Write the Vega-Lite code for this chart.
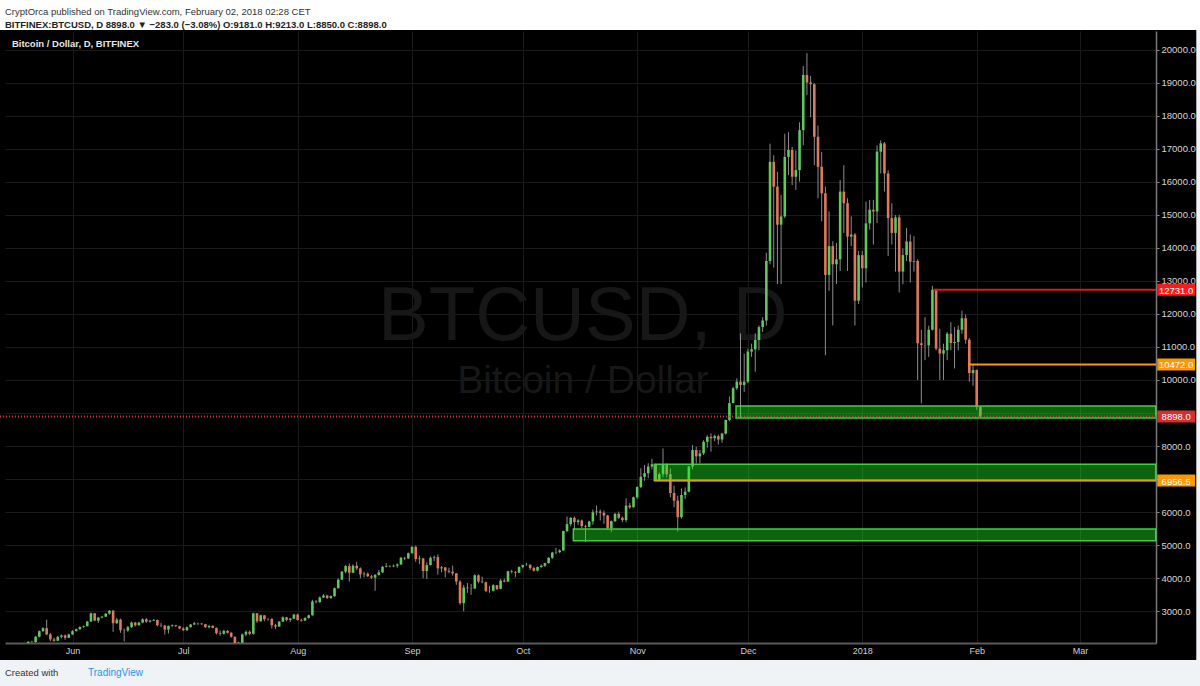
{
  "$schema": "https://vega.github.io/schema/vega-lite/v6.json",
  "width": 1151,
  "height": 612,
  "autosize": {"type": "none"},
  "padding": {"left": 5, "top": 31, "right": 44, "bottom": 43},
  "background": "#000000",
  "config": {
    "view": {"stroke": null},
    "font": "Liberation Sans",
    "axisY": {"labelOverlap": false, "labelSeparation": 0, "labelBound": false}
  },
  "title": {
    "text": "CryptOrca published on TradingView.com, February 02, 2018 02:28 CET",
    "subtitle": "BITFINEX:BTCUSD, D  8898.0 ▼ −283.0 (−3.08%) O:9181.0 H:9213.0 L:8850.0 C:8898.0",
    "anchor": "start",
    "frame": "group",
    "offset": -29,
    "font": "Liberation Sans",
    "fontSize": 9.5,
    "fontWeight": "normal",
    "color": "#333333",
    "subtitleFont": "Liberation Sans",
    "subtitleFontSize": 9.5,
    "subtitleFontWeight": "bold",
    "subtitleColor": "#222222",
    "subtitlePadding": 3
  },
  "datasets": {
    "candles": [
      {"d":"2017-05-20","o":2040,"h":2090,"l":2030,"c":2080},
      {"d":"2017-05-21","o":2080,"h":2110,"l":2050,"c":2070},
      {"d":"2017-05-22","o":2070,"h":2250,"l":2050,"c":2230},
      {"d":"2017-05-23","o":2230,"h":2420,"l":2210,"c":2400},
      {"d":"2017-05-24","o":2400,"h":2520,"l":2380,"c":2490},
      {"d":"2017-05-25","o":2490,"h":2750,"l":2280,"c":2300},
      {"d":"2017-05-26","o":2300,"h":2350,"l":2100,"c":2150},
      {"d":"2017-05-27","o":2150,"h":2200,"l":2080,"c":2110},
      {"d":"2017-05-28","o":2110,"h":2260,"l":2100,"c":2230},
      {"d":"2017-05-29","o":2230,"h":2300,"l":2180,"c":2270},
      {"d":"2017-05-30","o":2270,"h":2300,"l":2140,"c":2200},
      {"d":"2017-05-31","o":2200,"h":2330,"l":2190,"c":2300},
      {"d":"2017-06-01","o":2300,"h":2430,"l":2290,"c":2400},
      {"d":"2017-06-02","o":2400,"h":2480,"l":2390,"c":2460},
      {"d":"2017-06-03","o":2460,"h":2540,"l":2440,"c":2530},
      {"d":"2017-06-04","o":2530,"h":2570,"l":2500,"c":2550},
      {"d":"2017-06-05","o":2550,"h":2710,"l":2540,"c":2690},
      {"d":"2017-06-06","o":2690,"h":2960,"l":2680,"c":2940},
      {"d":"2017-06-07","o":2940,"h":2950,"l":2700,"c":2720},
      {"d":"2017-06-08","o":2720,"h":2830,"l":2650,"c":2810},
      {"d":"2017-06-09","o":2810,"h":2860,"l":2790,"c":2840},
      {"d":"2017-06-10","o":2840,"h":2950,"l":2830,"c":2930},
      {"d":"2017-06-11","o":2930,"h":3040,"l":2900,"c":3020},
      {"d":"2017-06-12","o":3020,"h":3040,"l":2380,"c":2640},
      {"d":"2017-06-13","o":2640,"h":2800,"l":2620,"c":2750},
      {"d":"2017-06-14","o":2750,"h":2780,"l":2350,"c":2430},
      {"d":"2017-06-15","o":2430,"h":2480,"l":2090,"c":2420},
      {"d":"2017-06-16","o":2420,"h":2560,"l":2380,"c":2520},
      {"d":"2017-06-17","o":2520,"h":2690,"l":2500,"c":2660},
      {"d":"2017-06-18","o":2660,"h":2680,"l":2540,"c":2580},
      {"d":"2017-06-19","o":2580,"h":2680,"l":2570,"c":2660},
      {"d":"2017-06-20","o":2660,"h":2790,"l":2640,"c":2760},
      {"d":"2017-06-21","o":2760,"h":2800,"l":2650,"c":2690},
      {"d":"2017-06-22","o":2690,"h":2740,"l":2660,"c":2720},
      {"d":"2017-06-23","o":2720,"h":2770,"l":2710,"c":2740},
      {"d":"2017-06-24","o":2740,"h":2750,"l":2550,"c":2580},
      {"d":"2017-06-25","o":2580,"h":2650,"l":2520,"c":2570},
      {"d":"2017-06-26","o":2570,"h":2590,"l":2300,"c":2450},
      {"d":"2017-06-27","o":2450,"h":2570,"l":2330,"c":2560},
      {"d":"2017-06-28","o":2560,"h":2600,"l":2520,"c":2580},
      {"d":"2017-06-29","o":2580,"h":2590,"l":2530,"c":2550},
      {"d":"2017-06-30","o":2550,"h":2560,"l":2460,"c":2480},
      {"d":"2017-07-01","o":2480,"h":2520,"l":2400,"c":2430},
      {"d":"2017-07-02","o":2430,"h":2540,"l":2400,"c":2520},
      {"d":"2017-07-03","o":2520,"h":2620,"l":2510,"c":2600},
      {"d":"2017-07-04","o":2600,"h":2680,"l":2590,"c":2640},
      {"d":"2017-07-05","o":2640,"h":2660,"l":2580,"c":2630},
      {"d":"2017-07-06","o":2630,"h":2650,"l":2590,"c":2610},
      {"d":"2017-07-07","o":2610,"h":2620,"l":2500,"c":2520},
      {"d":"2017-07-08","o":2520,"h":2580,"l":2480,"c":2560},
      {"d":"2017-07-09","o":2560,"h":2580,"l":2490,"c":2500},
      {"d":"2017-07-10","o":2500,"h":2510,"l":2300,"c":2340},
      {"d":"2017-07-11","o":2340,"h":2420,"l":2260,"c":2320},
      {"d":"2017-07-12","o":2320,"h":2440,"l":2300,"c":2410},
      {"d":"2017-07-13","o":2410,"h":2430,"l":2330,"c":2350},
      {"d":"2017-07-14","o":2350,"h":2370,"l":2200,"c":2230},
      {"d":"2017-07-15","o":2230,"h":2240,"l":2000,"c":2020},
      {"d":"2017-07-16","o":2020,"h":2080,"l":1950,"c":2050},
      {"d":"2017-07-17","o":2050,"h":2330,"l":2030,"c":2300},
      {"d":"2017-07-18","o":2300,"h":2420,"l":2250,"c":2380},
      {"d":"2017-07-19","o":2380,"h":2420,"l":2280,"c":2320},
      {"d":"2017-07-20","o":2320,"h":2960,"l":2300,"c":2940},
      {"d":"2017-07-21","o":2940,"h":2950,"l":2650,"c":2700},
      {"d":"2017-07-22","o":2700,"h":2900,"l":2680,"c":2880},
      {"d":"2017-07-23","o":2880,"h":2890,"l":2700,"c":2760},
      {"d":"2017-07-24","o":2760,"h":2790,"l":2720,"c":2770},
      {"d":"2017-07-25","o":2770,"h":2790,"l":2480,"c":2580},
      {"d":"2017-07-26","o":2580,"h":2620,"l":2460,"c":2540},
      {"d":"2017-07-27","o":2540,"h":2700,"l":2530,"c":2690},
      {"d":"2017-07-28","o":2690,"h":2850,"l":2680,"c":2820},
      {"d":"2017-07-29","o":2820,"h":2830,"l":2700,"c":2740},
      {"d":"2017-07-30","o":2740,"h":2800,"l":2680,"c":2780},
      {"d":"2017-07-31","o":2780,"h":2930,"l":2770,"c":2900},
      {"d":"2017-08-01","o":2900,"h":2930,"l":2720,"c":2740},
      {"d":"2017-08-02","o":2740,"h":2780,"l":2690,"c":2720},
      {"d":"2017-08-03","o":2720,"h":2820,"l":2710,"c":2800},
      {"d":"2017-08-04","o":2800,"h":2900,"l":2780,"c":2880},
      {"d":"2017-08-05","o":2880,"h":3350,"l":2870,"c":3300},
      {"d":"2017-08-06","o":3300,"h":3340,"l":3240,"c":3280},
      {"d":"2017-08-07","o":3280,"h":3450,"l":3260,"c":3420},
      {"d":"2017-08-08","o":3420,"h":3520,"l":3400,"c":3480},
      {"d":"2017-08-09","o":3480,"h":3500,"l":3380,"c":3400},
      {"d":"2017-08-10","o":3400,"h":3480,"l":3380,"c":3460},
      {"d":"2017-08-11","o":3460,"h":3720,"l":3440,"c":3700},
      {"d":"2017-08-12","o":3700,"h":4000,"l":3690,"c":3960},
      {"d":"2017-08-13","o":3960,"h":4220,"l":3950,"c":4200},
      {"d":"2017-08-14","o":4200,"h":4400,"l":4150,"c":4370},
      {"d":"2017-08-15","o":4370,"h":4450,"l":3900,"c":4170},
      {"d":"2017-08-16","o":4170,"h":4420,"l":4150,"c":4380},
      {"d":"2017-08-17","o":4380,"h":4500,"l":4250,"c":4300},
      {"d":"2017-08-18","o":4300,"h":4330,"l":4000,"c":4120},
      {"d":"2017-08-19","o":4120,"h":4200,"l":4030,"c":4140},
      {"d":"2017-08-20","o":4140,"h":4180,"l":4040,"c":4060},
      {"d":"2017-08-21","o":4060,"h":4100,"l":3980,"c":4020},
      {"d":"2017-08-22","o":4020,"h":4130,"l":3620,"c":4100},
      {"d":"2017-08-23","o":4100,"h":4250,"l":4080,"c":4180},
      {"d":"2017-08-24","o":4180,"h":4370,"l":4160,"c":4350},
      {"d":"2017-08-25","o":4350,"h":4460,"l":4330,"c":4370},
      {"d":"2017-08-26","o":4370,"h":4400,"l":4330,"c":4360},
      {"d":"2017-08-27","o":4360,"h":4420,"l":4340,"c":4380},
      {"d":"2017-08-28","o":4380,"h":4450,"l":4320,"c":4420},
      {"d":"2017-08-29","o":4420,"h":4650,"l":4400,"c":4620},
      {"d":"2017-08-30","o":4620,"h":4650,"l":4550,"c":4600},
      {"d":"2017-08-31","o":4600,"h":4780,"l":4590,"c":4760},
      {"d":"2017-09-01","o":4760,"h":4980,"l":4740,"c":4950},
      {"d":"2017-09-02","o":4950,"h":4990,"l":4500,"c":4580},
      {"d":"2017-09-03","o":4580,"h":4690,"l":4430,"c":4600},
      {"d":"2017-09-04","o":4600,"h":4620,"l":4000,"c":4220},
      {"d":"2017-09-05","o":4220,"h":4480,"l":3980,"c":4400},
      {"d":"2017-09-06","o":4400,"h":4660,"l":4390,"c":4620},
      {"d":"2017-09-07","o":4620,"h":4690,"l":4520,"c":4640},
      {"d":"2017-09-08","o":4640,"h":4720,"l":4110,"c":4300},
      {"d":"2017-09-09","o":4300,"h":4370,"l":4180,"c":4330},
      {"d":"2017-09-10","o":4330,"h":4340,"l":4030,"c":4230},
      {"d":"2017-09-11","o":4230,"h":4320,"l":4150,"c":4200},
      {"d":"2017-09-12","o":4200,"h":4380,"l":4080,"c":4150},
      {"d":"2017-09-13","o":4150,"h":4160,"l":3800,"c":3900},
      {"d":"2017-09-14","o":3900,"h":3940,"l":3200,"c":3250},
      {"d":"2017-09-15","o":3250,"h":3800,"l":3000,"c":3720},
      {"d":"2017-09-16","o":3720,"h":3860,"l":3560,"c":3700},
      {"d":"2017-09-17","o":3700,"h":3830,"l":3500,"c":3690},
      {"d":"2017-09-18","o":3690,"h":4120,"l":3680,"c":4090},
      {"d":"2017-09-19","o":4090,"h":4120,"l":3850,"c":3900},
      {"d":"2017-09-20","o":3900,"h":4050,"l":3850,"c":3880},
      {"d":"2017-09-21","o":3880,"h":3900,"l":3580,"c":3620},
      {"d":"2017-09-22","o":3620,"h":3770,"l":3560,"c":3620},
      {"d":"2017-09-23","o":3620,"h":3820,"l":3600,"c":3790},
      {"d":"2017-09-24","o":3790,"h":3800,"l":3640,"c":3680},
      {"d":"2017-09-25","o":3680,"h":3980,"l":3670,"c":3930},
      {"d":"2017-09-26","o":3930,"h":3990,"l":3880,"c":3900},
      {"d":"2017-09-27","o":3900,"h":4230,"l":3890,"c":4210},
      {"d":"2017-09-28","o":4210,"h":4260,"l":4150,"c":4190},
      {"d":"2017-09-29","o":4190,"h":4220,"l":4030,"c":4170},
      {"d":"2017-09-30","o":4170,"h":4360,"l":4160,"c":4340},
      {"d":"2017-10-01","o":4340,"h":4410,"l":4300,"c":4400},
      {"d":"2017-10-02","o":4400,"h":4470,"l":4380,"c":4410},
      {"d":"2017-10-03","o":4410,"h":4420,"l":4250,"c":4310},
      {"d":"2017-10-04","o":4310,"h":4350,"l":4200,"c":4230},
      {"d":"2017-10-05","o":4230,"h":4360,"l":4210,"c":4340},
      {"d":"2017-10-06","o":4340,"h":4420,"l":4320,"c":4380},
      {"d":"2017-10-07","o":4380,"h":4470,"l":4340,"c":4460},
      {"d":"2017-10-08","o":4460,"h":4640,"l":4440,"c":4620},
      {"d":"2017-10-09","o":4620,"h":4800,"l":4590,"c":4780},
      {"d":"2017-10-10","o":4780,"h":4920,"l":4730,"c":4790},
      {"d":"2017-10-11","o":4790,"h":4880,"l":4760,"c":4840},
      {"d":"2017-10-12","o":4840,"h":5440,"l":4830,"c":5430},
      {"d":"2017-10-13","o":5430,"h":5870,"l":5400,"c":5640},
      {"d":"2017-10-14","o":5640,"h":5850,"l":5570,"c":5830},
      {"d":"2017-10-15","o":5830,"h":5870,"l":5460,"c":5700},
      {"d":"2017-10-16","o":5700,"h":5790,"l":5620,"c":5750},
      {"d":"2017-10-17","o":5750,"h":5780,"l":5520,"c":5580},
      {"d":"2017-10-18","o":5580,"h":5620,"l":5100,"c":5560},
      {"d":"2017-10-19","o":5560,"h":5740,"l":5550,"c":5720},
      {"d":"2017-10-20","o":5720,"h":6080,"l":5620,"c":6000},
      {"d":"2017-10-21","o":6000,"h":6200,"l":5900,"c":6020},
      {"d":"2017-10-22","o":6020,"h":6080,"l":5750,"c":5980},
      {"d":"2017-10-23","o":5980,"h":6050,"l":5650,"c":5900},
      {"d":"2017-10-24","o":5900,"h":5920,"l":5480,"c":5520},
      {"d":"2017-10-25","o":5520,"h":5750,"l":5400,"c":5730},
      {"d":"2017-10-26","o":5730,"h":5980,"l":5700,"c":5950},
      {"d":"2017-10-27","o":5950,"h":6020,"l":5800,"c":5830},
      {"d":"2017-10-28","o":5830,"h":5870,"l":5700,"c":5760},
      {"d":"2017-10-29","o":5760,"h":6420,"l":5700,"c":6200},
      {"d":"2017-10-30","o":6200,"h":6280,"l":6100,"c":6150},
      {"d":"2017-10-31","o":6150,"h":6470,"l":6140,"c":6450},
      {"d":"2017-11-01","o":6450,"h":6780,"l":6400,"c":6760},
      {"d":"2017-11-02","o":6760,"h":7330,"l":6730,"c":7070},
      {"d":"2017-11-03","o":7070,"h":7430,"l":6950,"c":7180},
      {"d":"2017-11-04","o":7180,"h":7480,"l":7030,"c":7380},
      {"d":"2017-11-05","o":7380,"h":7620,"l":7300,"c":7450},
      {"d":"2017-11-06","o":7450,"h":7460,"l":6950,"c":6990},
      {"d":"2017-11-07","o":6990,"h":7200,"l":6950,"c":7150},
      {"d":"2017-11-08","o":7150,"h":7930,"l":7050,"c":7450},
      {"d":"2017-11-09","o":7450,"h":7480,"l":7050,"c":7150},
      {"d":"2017-11-10","o":7150,"h":7330,"l":6450,"c":6580},
      {"d":"2017-11-11","o":6580,"h":6800,"l":6150,"c":6350},
      {"d":"2017-11-12","o":6350,"h":6500,"l":5410,"c":5850},
      {"d":"2017-11-13","o":5850,"h":6720,"l":5800,"c":6520},
      {"d":"2017-11-14","o":6520,"h":6750,"l":6400,"c":6620},
      {"d":"2017-11-15","o":6620,"h":7400,"l":6600,"c":7380},
      {"d":"2017-11-16","o":7380,"h":8030,"l":7300,"c":7880},
      {"d":"2017-11-17","o":7880,"h":7980,"l":7480,"c":7690},
      {"d":"2017-11-18","o":7690,"h":7880,"l":7480,"c":7780},
      {"d":"2017-11-19","o":7780,"h":8180,"l":7730,"c":8130},
      {"d":"2017-11-20","o":8130,"h":8330,"l":7950,"c":8280},
      {"d":"2017-11-21","o":8280,"h":8385,"l":7830,"c":8240},
      {"d":"2017-11-22","o":8240,"h":8350,"l":8150,"c":8300},
      {"d":"2017-11-23","o":8300,"h":8350,"l":8050,"c":8200},
      {"d":"2017-11-24","o":8200,"h":8400,"l":8100,"c":8380},
      {"d":"2017-11-25","o":8380,"h":8800,"l":8350,"c":8790},
      {"d":"2017-11-26","o":8790,"h":9500,"l":8750,"c":9300},
      {"d":"2017-11-27","o":9300,"h":9800,"l":9300,"c":9750},
      {"d":"2017-11-28","o":9750,"h":10050,"l":9700,"c":9950},
      {"d":"2017-11-29","o":9950,"h":11410,"l":8840,"c":9850},
      {"d":"2017-11-30","o":9850,"h":10800,"l":9640,"c":9950},
      {"d":"2017-12-01","o":9950,"h":10950,"l":9900,"c":10860},
      {"d":"2017-12-02","o":10860,"h":11100,"l":10700,"c":10930},
      {"d":"2017-12-03","o":10930,"h":11410,"l":10250,"c":11210},
      {"d":"2017-12-04","o":11210,"h":11650,"l":10900,"c":11600},
      {"d":"2017-12-05","o":11600,"h":11900,"l":11450,"c":11800},
      {"d":"2017-12-06","o":11800,"h":13850,"l":11650,"c":13600},
      {"d":"2017-12-07","o":13600,"h":17150,"l":13500,"c":16600},
      {"d":"2017-12-08","o":16600,"h":16800,"l":13400,"c":15850},
      {"d":"2017-12-09","o":15850,"h":16300,"l":12900,"c":14700},
      {"d":"2017-12-10","o":14700,"h":15600,"l":12900,"c":14950},
      {"d":"2017-12-11","o":14950,"h":17450,"l":14900,"c":16750},
      {"d":"2017-12-12","o":16750,"h":17500,"l":16200,"c":16960},
      {"d":"2017-12-13","o":16960,"h":17050,"l":15900,"c":16150},
      {"d":"2017-12-14","o":16150,"h":16950,"l":15750,"c":16350},
      {"d":"2017-12-15","o":16350,"h":17800,"l":16000,"c":17560},
      {"d":"2017-12-16","o":17560,"h":19500,"l":17100,"c":19230},
      {"d":"2017-12-17","o":19230,"h":19890,"l":18620,"c":19000},
      {"d":"2017-12-18","o":19000,"h":19200,"l":17950,"c":18950},
      {"d":"2017-12-19","o":18950,"h":18980,"l":16500,"c":17360},
      {"d":"2017-12-20","o":17360,"h":17700,"l":15500,"c":16450},
      {"d":"2017-12-21","o":16450,"h":16900,"l":14800,"c":15650},
      {"d":"2017-12-22","o":15650,"h":15850,"l":10750,"c":13180},
      {"d":"2017-12-23","o":13180,"h":15100,"l":12700,"c":14050},
      {"d":"2017-12-24","o":14050,"h":14200,"l":11650,"c":13500},
      {"d":"2017-12-25","o":13500,"h":14150,"l":12900,"c":13650},
      {"d":"2017-12-26","o":13650,"h":16050,"l":13300,"c":15700},
      {"d":"2017-12-27","o":15700,"h":16500,"l":14450,"c":15350},
      {"d":"2017-12-28","o":15350,"h":15500,"l":13300,"c":14340},
      {"d":"2017-12-29","o":14340,"h":14950,"l":14050,"c":14400},
      {"d":"2017-12-30","o":14400,"h":14450,"l":11650,"c":12400},
      {"d":"2017-12-31","o":12400,"h":13900,"l":12300,"c":13780},
      {"d":"2018-01-01","o":13780,"h":13900,"l":12800,"c":13380},
      {"d":"2018-01-02","o":13380,"h":15400,"l":12950,"c":14740},
      {"d":"2018-01-03","o":14740,"h":15450,"l":14550,"c":15150},
      {"d":"2018-01-04","o":15150,"h":15450,"l":14100,"c":15100},
      {"d":"2018-01-05","o":15100,"h":17100,"l":14750,"c":16910},
      {"d":"2018-01-06","o":16910,"h":17250,"l":16250,"c":17160},
      {"d":"2018-01-07","o":17160,"h":17200,"l":15700,"c":16250},
      {"d":"2018-01-08","o":16250,"h":16350,"l":13750,"c":14900},
      {"d":"2018-01-09","o":14900,"h":15350,"l":14100,"c":14450},
      {"d":"2018-01-10","o":14450,"h":14990,"l":13280,"c":14920},
      {"d":"2018-01-11","o":14920,"h":15000,"l":12650,"c":13280},
      {"d":"2018-01-12","o":13280,"h":13980,"l":12900,"c":13780},
      {"d":"2018-01-13","o":13780,"h":14600,"l":13600,"c":14190},
      {"d":"2018-01-14","o":14190,"h":14400,"l":12950,"c":13580},
      {"d":"2018-01-15","o":13580,"h":14350,"l":13280,"c":13600},
      {"d":"2018-01-16","o":13600,"h":13650,"l":10000,"c":11110},
      {"d":"2018-01-17","o":11110,"h":11520,"l":9290,"c":11060},
      {"d":"2018-01-18","o":11060,"h":11900,"l":10600,"c":11050},
      {"d":"2018-01-19","o":11050,"h":11640,"l":10700,"c":11520},
      {"d":"2018-01-20","o":11520,"h":12850,"l":11500,"c":12731},
      {"d":"2018-01-21","o":12731,"h":12760,"l":10900,"c":10950},
      {"d":"2018-01-22","o":10950,"h":11550,"l":10000,"c":10800},
      {"d":"2018-01-23","o":10800,"h":11100,"l":10000,"c":10900},
      {"d":"2018-01-24","o":10900,"h":11450,"l":10600,"c":11400},
      {"d":"2018-01-25","o":11400,"h":11750,"l":10900,"c":11120},
      {"d":"2018-01-26","o":11120,"h":11600,"l":10350,"c":11150},
      {"d":"2018-01-27","o":11150,"h":11650,"l":10900,"c":11520},
      {"d":"2018-01-28","o":11520,"h":12100,"l":11400,"c":11870},
      {"d":"2018-01-29","o":11870,"h":11980,"l":11100,"c":11220},
      {"d":"2018-01-30","o":11220,"h":11270,"l":9950,"c":10210},
      {"d":"2018-01-31","o":10210,"h":10472,"l":9830,"c":10300},
      {"d":"2018-02-01","o":10300,"h":10320,"l":9100,"c":9181},
      {"d":"2018-02-02","o":9181,"h":9213,"l":8850,"c":8898}
    ],
    "zones": [
      {"start":"2017-11-27T19:00:00Z","bottom":8850,"top":9213},
      {"start":"2017-11-05T15:00:00Z","bottom":6956.5,"top":7450},
      {"start":"2017-10-14T17:00:00Z","bottom":5138,"top":5492}
    ],
    "levels": [
      {"kind":"resistance","level":12731,"start":"2018-01-20T08:00:00Z","label":"12731.0"},
      {"kind":"pivot","level":10472,"start":"2018-01-29T18:00:00Z","label":"10472.0"},
      {"kind":"last","level":8898,"start":"2017-05-12T08:00:00Z","label":"8898.0"},
      {"kind":"support","level":6956.5,"start":"2017-11-05T15:00:00Z","label":"6956.5"}
    ]
  },
  "layer": [
    {
      "data": {"values": [{}]},
      "mark": {"type": "rect", "color": "#ffffff"},
      "encoding": {
        "x": {"datum": {"year": 2017, "month": 5, "date": 12, "hours": 8, "utc": true}, "type": "temporal"},
        "x2": {"datum": {"year": 2018, "month": 4, "date": 2, "hours": 14, "utc": true}},
        "y": {"datum": 20590, "type": "quantitative"},
        "y2": {"datum": 21498}
      }
    },
    {
      "data": {"values": [{}]},
      "mark": {"type": "rect", "color": "#f0f3f6"},
      "encoding": {
        "x": {"datum": {"year": 2017, "month": 5, "date": 12, "hours": 8, "utc": true}, "type": "temporal"},
        "x2": {"datum": {"year": 2018, "month": 4, "date": 2, "hours": 14, "utc": true}},
        "y": {"datum": 741, "type": "quantitative"},
        "y2": {"datum": 1528}
      }
    },
    {
      "data": {"values": [{}]},
      "mark": {"type": "rect", "color": "#f0f3f6"},
      "encoding": {
        "x": {"datum": {"year": 2018, "month": 4, "date": 1, "hours": 12, "utc": true}, "type": "temporal"},
        "x2": {"datum": {"year": 2018, "month": 4, "date": 2, "hours": 14, "utc": true}},
        "y": {"datum": 1528, "type": "quantitative"},
        "y2": {"datum": 20590}
      }
    },
    {
      "data": {"values": [{"t": "BTCUSD, D"}]},
      "mark": {"type": "text", "font": "Liberation Sans", "fontSize": 76, "color": "#171717", "align": "center", "baseline": "alphabetic"},
      "encoding": {
        "x": {"datum": {"year": 2017, "month": 10, "date": 17, "hours": 7, "utc": true}, "type": "temporal"},
        "y": {"datum": 11210, "type": "quantitative"},
        "text": {"field": "t"}
      }
    },
    {
      "data": {"values": [{"t": "Bitcoin / Dollar"}]},
      "mark": {"type": "text", "font": "Liberation Sans", "fontSize": 39, "color": "#171717", "align": "center", "baseline": "alphabetic"},
      "encoding": {
        "x": {"datum": {"year": 2017, "month": 10, "date": 17, "hours": 7, "utc": true}, "type": "temporal"},
        "y": {"datum": 9607, "type": "quantitative"},
        "text": {"field": "t"}
      }
    },
    {
      "data": {"name": "candles"},
      "mark": {"type": "rule", "color": "#8c8c8c", "strokeWidth": 1, "clip": true},
      "encoding": {
        "x": {"field": "d", "type": "temporal"},
        "y": {"field": "l", "type": "quantitative"},
        "y2": {"field": "h"}
      }
    },
    {
      "data": {"name": "candles"},
      "mark": {"type": "bar", "size": 2.6, "clip": true},
      "encoding": {
        "x": {
          "field": "d",
          "type": "temporal",
          "scale": {
            "type": "utc",
            "padding": 0,
            "domain": [
              {"year": 2017, "month": 5, "date": 13, "hours": 17, "utc": true},
              {"year": 2018, "month": 3, "date": 21, "hours": 14, "utc": true}
            ]
          },
          "axis": {
            "orient": "bottom",
            "zindex": 0,
            "tickCount": {"interval": "month", "step": 1},
            "labelExpr": "utcFormat(datum.value, '%m') == '01' ? utcFormat(datum.value, '%Y') : utcFormat(datum.value, '%b')",
            "labelColor": "#cfcfcf",
            "labelFont": "Liberation Sans",
            "labelFontSize": 9,
            "labelPadding": 3,
            "ticks": false,
            "domainColor": "#5a5a5a",
            "domainWidth": 2,
            "grid": true,
            "gridColor": "#1a1a1a",
            "gridWidth": 1,
            "title": null
          }
        },
        "y": {
          "field": "o",
          "type": "quantitative",
          "scale": {"domain": [2042, 20560], "nice": false, "zero": false, "padding": 0},
          "axis": {
            "orient": "right",
            "zindex": 0,
            "values": [3000, 4000, 5000, 6000, 7000, 8000, 9000, 10000, 11000, 12000, 13000, 14000, 15000, 16000, 17000, 18000, 19000, 20000],
            "tickCount": 18,
            "format": ".1f",
            "labelExpr": "datum.value == 9000 || datum.value == 7000 ? '' : datum.label",
            "labelOverlap": false,
            "labelSeparation": 0,
            "labelColor": "#d6d6d6",
            "labelFont": "Liberation Sans",
            "labelFontSize": 9.5,
            "labelPadding": 2,
            "tickColor": "#8a8a8a",
            "tickSize": 3,
            "domainColor": "#7a7a7a",
            "domainWidth": 1.5,
            "grid": true,
            "gridColor": "#1a1a1a",
            "gridWidth": 1,
            "title": null
          }
        },
        "y2": {"field": "c"},
        "color": {
          "condition": {"test": "datum.c >= datum.o", "value": "#5fc85f"},
          "value": "#e0785c"
        }
      }
    },
    {
      "data": {"name": "zones"},
      "mark": {"type": "rect", "fill": "#22ee22", "fillOpacity": 0.42, "stroke": "#3fd03f", "strokeWidth": 1.5},
      "encoding": {
        "x": {"field": "start", "type": "temporal"},
        "x2": {"datum": {"year": 2018, "month": 3, "date": 21, "hours": 12, "utc": true}},
        "y": {"field": "bottom", "type": "quantitative"},
        "y2": {"field": "top"}
      }
    },
    {
      "data": {"name": "levels"},
      "mark": {"type": "rule"},
      "encoding": {
        "x": {"field": "start", "type": "temporal"},
        "x2": {"datum": {"year": 2018, "month": 3, "date": 21, "hours": 14, "utc": true}},
        "y": {"field": "level", "type": "quantitative"},
        "color": {
          "field": "kind",
          "type": "nominal",
          "scale": {"domain": ["resistance", "pivot", "last", "support"], "range": ["#d81b1b", "#ff9800", "#e53935", "#d9a020"]},
          "legend": null
        },
        "strokeDash": {
          "field": "kind",
          "type": "nominal",
          "scale": {"domain": ["resistance", "pivot", "last", "support"], "range": [[1, 0], [1, 0], [1, 2], [1, 0]]},
          "legend": null
        },
        "size": {
          "field": "kind",
          "type": "nominal",
          "scale": {"domain": ["resistance", "pivot", "last", "support"], "range": [2, 2, 1, 1]},
          "legend": null
        }
      }
    },
    {
      "data": {"name": "levels"},
      "mark": {"type": "bar", "orient": "horizontal", "size": 12},
      "encoding": {
        "x": {"datum": {"year": 2018, "month": 3, "date": 21, "hours": 22, "utc": true}, "type": "temporal"},
        "x2": {"datum": {"year": 2018, "month": 4, "date": 1, "hours": 5, "utc": true}},
        "y": {"field": "level", "type": "quantitative"},
        "fill": {
          "field": "kind",
          "type": "nominal",
          "scale": {"domain": ["resistance", "pivot", "last", "support"], "range": ["#ff1a1a", "#ff9800", "#d32f2f", "#ff9800"]},
          "legend": null
        }
      }
    },
    {
      "data": {"name": "levels"},
      "mark": {"type": "text", "font": "Liberation Sans", "fontSize": 9.5, "color": "#ffffff", "align": "center", "baseline": "middle", "dy": 1},
      "encoding": {
        "x": {"datum": {"year": 2018, "month": 3, "date": 27, "hours": 1, "utc": true}, "type": "temporal"},
        "y": {"field": "level", "type": "quantitative"},
        "text": {"field": "label"}
      }
    },
    {
      "data": {"values": [{"t": "Bitcoin / Dollar, D, BITFINEX"}]},
      "mark": {"type": "text", "font": "Liberation Sans", "fontSize": 9.5, "fontWeight": "bold", "color": "#e6e6e6", "align": "left", "baseline": "alphabetic"},
      "encoding": {
        "x": {"datum": {"year": 2017, "month": 5, "date": 15, "hours": 14, "utc": true}, "type": "temporal"},
        "y": {"datum": 20076, "type": "quantitative"},
        "text": {"field": "t"}
      }
    },
    {
      "data": {"values": [{"t": "Created with"}]},
      "mark": {"type": "text", "font": "Liberation Sans", "fontSize": 9.5, "color": "#333333", "align": "left", "baseline": "alphabetic"},
      "encoding": {
        "x": {"datum": {"year": 2017, "month": 5, "date": 13, "hours": 17, "utc": true}, "type": "temporal"},
        "y": {"datum": 1043, "type": "quantitative"},
        "text": {"field": "t"}
      }
    },
    {
      "data": {"values": [{"t": "TradingView"}]},
      "mark": {"type": "text", "font": "Liberation Sans", "fontSize": 10, "color": "#2196f3", "align": "left", "baseline": "alphabetic"},
      "encoding": {
        "x": {"datum": {"year": 2017, "month": 6, "date": 5, "hours": 5, "utc": true}, "type": "temporal"},
        "y": {"datum": 1043, "type": "quantitative"},
        "text": {"field": "t"}
      }
    }
  ]
}
